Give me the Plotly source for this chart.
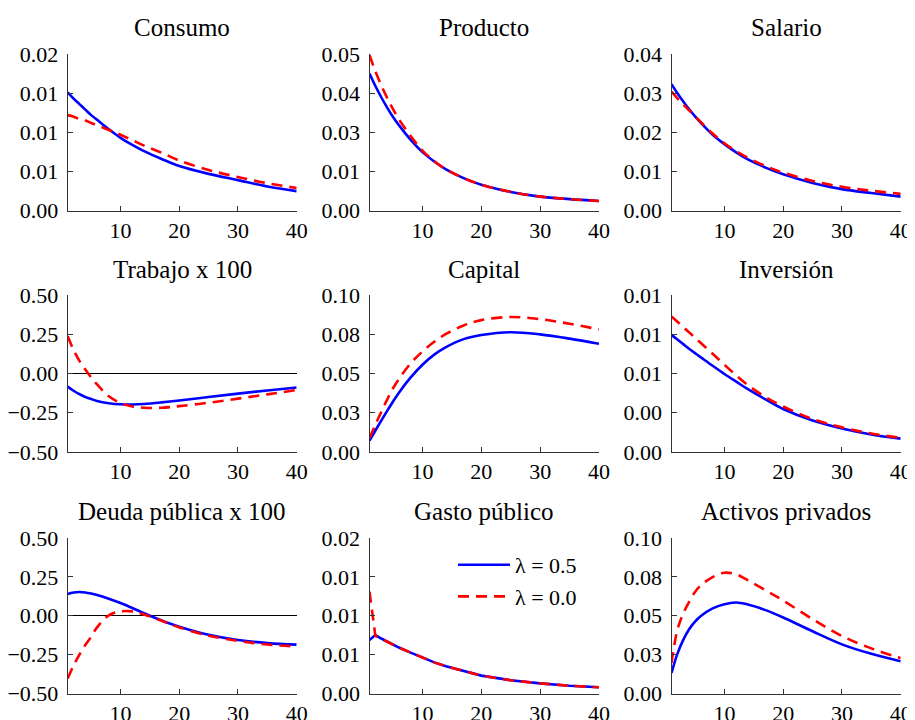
import plotly.graph_objects as go

T = [1, 2, 3, 4, 5, 6, 8, 10, 12, 14, 17, 20, 25, 30, 35, 40]

titles = ["Consumo", "Producto", "Salario",
          "Trabajo x 100", "Capital", "Inversión",
          "Deuda pública x 100", "Gasto público", "Activos privados"]

consumo_05 = [0.0151, 0.0143, 0.0136, 0.0129, 0.0122, 0.0116, 0.0104, 0.0093, 0.0084, 0.0076, 0.0066, 0.0057, 0.0047, 0.0039, 0.0031, 0.0025]
consumo_00 = [0.0122, 0.0120, 0.0117, 0.0115, 0.0112, 0.0109, 0.0103, 0.0097, 0.0090, 0.0083, 0.0074, 0.0064, 0.0052, 0.0043, 0.0035, 0.0029]

producto_05 = [0.0438, 0.0398, 0.0362, 0.0329, 0.0299, 0.0273, 0.0226, 0.0187, 0.0157, 0.0132, 0.0104, 0.0083, 0.0060, 0.0045, 0.0037, 0.0031]
producto_00 = [0.0497, 0.0445, 0.0400, 0.0360, 0.0324, 0.0292, 0.0238, 0.0192, 0.0158, 0.0132, 0.0104, 0.0083, 0.0060, 0.0045, 0.0037, 0.0031]

salario_05 = [0.0323, 0.0300, 0.0279, 0.0259, 0.0241, 0.0224, 0.0194, 0.0170, 0.0149, 0.0131, 0.0110, 0.0093, 0.0071, 0.0055, 0.0045, 0.0036]
salario_00 = [0.0304, 0.0287, 0.0271, 0.0256, 0.0241, 0.0226, 0.0197, 0.0172, 0.0152, 0.0135, 0.0114, 0.0097, 0.0076, 0.0061, 0.0051, 0.0043]

trabajo_05 = [-0.083, -0.110, -0.132, -0.150, -0.163, -0.175, -0.189, -0.196, -0.197, -0.194, -0.184, -0.172, -0.150, -0.128, -0.108, -0.089]
trabajo_00 = [0.237, 0.150, 0.080, 0.025, -0.025, -0.070, -0.145, -0.188, -0.210, -0.218, -0.218, -0.208, -0.186, -0.160, -0.133, -0.105]

capital_05 = [0.0072, 0.0137, 0.0200, 0.0262, 0.0322, 0.0378, 0.0475, 0.0556, 0.0620, 0.0668, 0.0719, 0.0745, 0.0763, 0.0749, 0.0722, 0.0689]
capital_00 = [0.0089, 0.0174, 0.0255, 0.0334, 0.0406, 0.0465, 0.0565, 0.0640, 0.0702, 0.0752, 0.0806, 0.0840, 0.0860, 0.0846, 0.0817, 0.0781]

inversion_05 = [0.00746, 0.00716, 0.00687, 0.00658, 0.00630, 0.00603, 0.00549, 0.00497, 0.00448, 0.00400, 0.00335, 0.00274, 0.00201, 0.00150, 0.00112, 0.00085]
inversion_00 = [0.00864, 0.00830, 0.00796, 0.00762, 0.00728, 0.00694, 0.00626, 0.00556, 0.00488, 0.00426, 0.00350, 0.00290, 0.00210, 0.00157, 0.00118, 0.00090]

deuda_05 = [0.140, 0.150, 0.153, 0.150, 0.143, 0.134, 0.110, 0.082, 0.050, 0.016, -0.030, -0.070, -0.122, -0.156, -0.176, -0.186]
deuda_00 = [-0.404, -0.320, -0.250, -0.188, -0.135, -0.075, 0.003, 0.028, 0.028, 0.008, -0.032, -0.075, -0.128, -0.162, -0.185, -0.198]

gasto_05 = [0.00687, 0.00751, 0.00707, 0.00666, 0.00628, 0.00591, 0.00525, 0.0046, 0.0040, 0.0035, 0.0029, 0.0023, 0.0017, 0.0013, 0.0010, 0.0008]
gasto_00 = [0.01309, 0.00742, 0.00703, 0.00664, 0.00627, 0.00591, 0.00526, 0.0046, 0.0040, 0.0035, 0.0029, 0.0023, 0.0017, 0.0013, 0.0010, 0.0008]

activos_05 = [0.0132, 0.0255, 0.0345, 0.0413, 0.0462, 0.0498, 0.0547, 0.0574, 0.0585, 0.0572, 0.0536, 0.0489, 0.0400, 0.0316, 0.0255, 0.0207]
activos_00 = [0.0196, 0.0409, 0.0515, 0.0590, 0.0653, 0.0696, 0.0749, 0.0777, 0.0766, 0.0728, 0.0664, 0.0598, 0.0478, 0.0370, 0.0290, 0.0228]

series_05 = [consumo_05, producto_05, salario_05, trabajo_05, capital_05,
             inversion_05, deuda_05, gasto_05, activos_05]
series_00 = [consumo_00, producto_00, salario_00, trabajo_00, capital_00,
             inversion_00, deuda_00, gasto_00, activos_00]

# y-axis ranges, tick values and the (rounded) tick labels shown
y_ranges = [[0, 0.02], [0, 0.05], [0, 0.04], [-0.5, 0.5], [0, 0.1],
            [0, 0.01], [-0.5, 0.5], [0, 0.02], [0, 0.1]]
y_tickvals = [[0, 0.005, 0.01, 0.015, 0.02],
              [0, 0.0125, 0.025, 0.0375, 0.05],
              [0, 0.01, 0.02, 0.03, 0.04],
              [-0.5, -0.25, 0, 0.25, 0.5],
              [0, 0.025, 0.05, 0.075, 0.1],
              [0, 0.0025, 0.005, 0.0075, 0.01],
              [-0.5, -0.25, 0, 0.25, 0.5],
              [0, 0.005, 0.01, 0.015, 0.02],
              [0, 0.025, 0.05, 0.075, 0.1]]
y_ticktext = [["0.00", "0.01", "0.01", "0.01", "0.02"],
              ["0.00", "0.01", "0.03", "0.04", "0.05"],
              ["0.00", "0.01", "0.02", "0.03", "0.04"],
              ["\u22120.50", "\u22120.25", "0.00", "0.25", "0.50"],
              ["0.00", "0.03", "0.05", "0.08", "0.10"],
              ["0.00", "0.00", "0.01", "0.01", "0.01"],
              ["\u22120.50", "\u22120.25", "0.00", "0.25", "0.50"],
              ["0.00", "0.01", "0.01", "0.01", "0.02"],
              ["0.00", "0.03", "0.05", "0.08", "0.10"]]
x_tickvals = [10, 20, 30, 40]
legend_names = ["\u03bb = 0.5", "\u03bb = 0.0"]

# The page body has an 8px margin, so the figure is drawn 8px in from the
# window's top-left corner; size and place it so the window shows 915x720.
OFF = 8
W, H = 915 - OFF, 720 - OFF
col_px = [(67.7, 296.7), (369.5, 599), (671.5, 900.7)]
row_px = [(54, 210.7), (295, 452), (538, 693.5)]
title_y_px = [28, 270, 512]


def px_x(p):
    return (p - OFF) / W


def px_y(p):
    return 1 - (p - OFF) / H


FONT = "Liberation Serif"
BLUE = "rgb(0,0,255)"
RED = "rgb(255,0,0)"

fig = go.Figure()
layout = {}
annotations = []
for i in range(9):
    r, c = divmod(i, 3)
    n = i + 1
    xa = "x" if n == 1 else f"x{n}"
    ya = "y" if n == 1 else f"y{n}"
    shape = "linear" if i == 7 else "spline"
    fig.add_trace(go.Scatter(
        x=T, y=series_05[i], mode="lines", xaxis=xa, yaxis=ya,
        line=dict(color=BLUE, width=2.6, shape=shape),
        name=legend_names[0], showlegend=(i == 7), legendgroup="a"))
    fig.add_trace(go.Scatter(
        x=T, y=series_00[i], mode="lines", xaxis=xa, yaxis=ya,
        line=dict(color=RED, width=2.6, dash="11px,7px", shape=shape),
        name=legend_names[1], showlegend=(i == 7), legendgroup="b"))

    x0, x1 = col_px[c]
    y0, y1 = row_px[r]
    key_x = "xaxis" if n == 1 else f"xaxis{n}"
    key_y = "yaxis" if n == 1 else f"yaxis{n}"
    layout[key_x] = dict(
        domain=[px_x(x0), px_x(x1)], range=[1, 40], anchor=ya,
        tickvals=x_tickvals, ticks="inside", ticklen=5, tickcolor="#333",
        showline=True, linecolor="#333", linewidth=1, showgrid=False,
        zeroline=False, automargin=False,
        tickfont=dict(family=FONT, size=22, color="black"),
        fixedrange=True)
    has_zero = y_ranges[i][0] < 0
    layout[key_y] = dict(
        domain=[px_y(y1), px_y(y0)], range=y_ranges[i], anchor=xa,
        tickvals=y_tickvals[i], ticktext=y_ticktext[i],
        ticks="inside", ticklen=5, tickcolor="#333",
        showline=True, linecolor="#333", linewidth=1, showgrid=False,
        zeroline=has_zero, zerolinecolor="black", zerolinewidth=1,
        automargin=False, ticklabelstandoff=4,
        tickfont=dict(family=FONT, size=22, color="black"),
        fixedrange=True)
    annotations.append(dict(
        text=titles[i], x=px_x((x0 + x1) / 2), y=px_y(title_y_px[r]),
        xref="paper", yref="paper", xanchor="center", yanchor="middle",
        showarrow=False, font=dict(family=FONT, size=25, color="black")))

fig.update_layout(
    template="none",
    width=W, height=H, margin=dict(l=0, r=0, t=0, b=0, autoexpand=False),
    paper_bgcolor="white", plot_bgcolor="white",
    annotations=annotations,
    showlegend=True,
    legend=dict(x=px_x(453), y=px_y(544), xanchor="left", yanchor="top",
                bgcolor="rgba(0,0,0,0)", borderwidth=0,
                font=dict(family=FONT, size=22, color="black"),
                tracegroupgap=0, itemwidth=52),
    **layout)

fig.write_html("out.html")
